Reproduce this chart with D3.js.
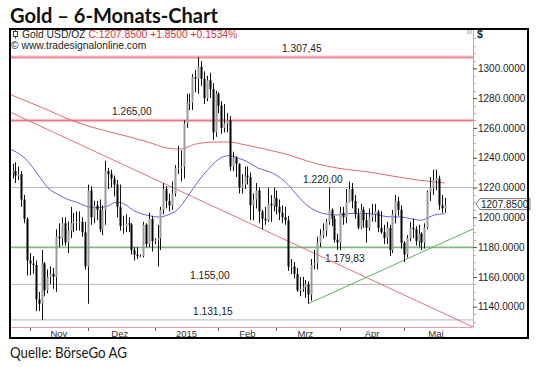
<!DOCTYPE html>
<html><head><meta charset="utf-8">
<script src="https://cdn.jsdelivr.net/npm/d3@7"></script>
<style>body{margin:0;background:#fff}svg{display:block}</style>
</head><body>
<svg id="c" width="540" height="367"></svg>
<script>
// ---- DATA ----
const startDate = "2014-10-24", endDate = "2015-05-21";
const opens = [1230,1231,1228,1229,1212,1199,1171,1169,1168,1145,
1142,1169,1151,1160,1162,1160,1187,1186,1196,1183,
1191,1196,1197,1197,1197,1190,1167,1218,1200,1208,
1205,1192,1205,1231,1229,1226,1222,1207,1194,1194,
1196,1195,1178,1175,1174,1174,1195,1182,1199,1184,
1185,1186,1205,1219,1211,1208,1216,1233,1233,1234,
1263,1277,1277,1294,1293,1301,1293,1280,1292,1286,
1257,1283,1275,1260,1263,1265,1234,1240,1236,1220,
1222,1228,1227,1208,1212,1218,1204,1199,1198,1209,
1208,1213,1207,1203,1200,1198,1167,1167,1162,1151,
1152,1153,1155,1148,1168,1169,1183,1188,1191,1197,
1205,1199,1185,1183,1203,1200,1210,1219,1211,1202,
1193,1205,1198,1193,1200,1202,1204,1193,1190,1186,
1193,1178,1202,1211,1205,1183,1175,1186,1193,1192,
1184,1189,1183,1193,1217,1220,1225,1226,1208,1206];
const highs = [1236,1237,1234,1231,1215,1200,1176,1174,1171,1150,
1178,1170,1165,1167,1166,1192,1196,1200,1200,1197,
1207,1203,1204,1204,1200,1197,1222,1221,1211,1211,
1212,1208,1238,1233,1232,1228,1225,1222,1201,1202,
1200,1196,1180,1180,1175,1197,1196,1203,1201,1186,
1195,1207,1223,1221,1216,1224,1235,1248,1245,1265,
1283,1283,1296,1299,1307.45,1305,1298,1295,1297,1290,
1285,1284,1278,1276,1270,1268,1244,1241,1236,1229,
1234,1234,1230,1216,1223,1220,1205,1207,1220,1215,
1220,1218,1212,1208,1207,1201,1172,1170,1166,1160,
1160,1158,1157,1172,1178,1187,1192,1196,1199,1220,
1206,1201,1189,1207,1207,1219,1224,1223,1215,1206,
1209,1207,1203,1206,1209,1209,1205,1204,1195,1197,
1195,1205,1215,1214,1208,1184,1188,1197,1199,1194,
1195,1190,1196,1218,1227,1232,1232,1228,1215,1213];
const lows = [1226,1223,1225,1207,1196,1161,1161,1162,1137,1137,
1131.15,1147,1149,1155,1152,1150,1180,1181,1181,1176,
1186,1190,1191,1191,1187,1165,1142,1195,1196,1198,
1190,1188,1195,1219,1220,1214,1200,1191,1189,1190,
1190,1175,1171,1172,1173,1173,1180,1180,1177,1182,
1167,1178,1202,1206,1204,1205,1214,1229,1224,1226,
1260,1272,1272,1284,1283,1288,1276,1278,1280,1252,
1254,1270,1256,1257,1257,1231,1231,1227,1216,1216,
1219,1222,1198,1198,1206,1196,1192,1195,1197,1197,
1204,1202,1198,1196,1195,1164,1162,1159,1150,1147,
1150,1146,1142,1144,1165,1165,1180,1186,1187,1195,
1194,1183,1178,1178,1195,1196,1210,1206,1199,1192,
1192,1193,1183,1191,1197,1197,1190,1189,1182,1182,
1174,1176,1196,1201,1179,1170,1173,1184,1186,1181,
1180,1178,1179,1192,1211,1215,1218,1205,1203,1203];
const closes = [1231,1228,1229,1212,1199,1171,1169,1168,1145,1142,
1169,1151,1160,1162,1160,1187,1186,1196,1183,1191,
1196,1197,1197,1197,1190,1167,1218,1200,1208,1205,
1192,1205,1231,1229,1226,1222,1207,1194,1194,1196,
1195,1178,1175,1174,1174,1195,1182,1199,1184,1185,
1186,1205,1219,1211,1208,1216,1233,1233,1234,1263,
1277,1277,1294,1293,1301,1293,1280,1292,1286,1257,
1283,1275,1260,1263,1265,1234,1240,1236,1220,1222,
1228,1227,1208,1212,1218,1204,1199,1198,1209,1208,
1213,1207,1203,1200,1198,1167,1167,1162,1151,1152,
1153,1155,1148,1168,1169,1183,1188,1191,1197,1205,
1199,1185,1183,1203,1200,1210,1219,1211,1202,1193,
1205,1198,1193,1200,1202,1204,1193,1190,1186,1193,
1178,1202,1211,1205,1183,1175,1186,1193,1192,1184,
1189,1183,1193,1217,1220,1225,1226,1208,1206,1207.85];
// moving averages: [bar index, value]
const ma200 = [[-0.9,1282.5],[5.3,1277.6],[12.2,1272],[19.1,1266],[26,1261.3],[33,1257.6],[39.8,1254.2],[46.7,1250.5],[53.6,1246.4],[58.2,1245.8],[62.8,1249],[69.7,1250.5],[74.3,1250.5],[81.2,1248.2],[88.1,1245.3],[95,1242],[101.9,1237.6],[108.8,1234.2],[115.7,1232],[122.6,1230.5],[129.5,1228.2],[136.4,1226],[143.3,1224.2],[149,1223.1]];
const ma50 = [[-0.9,1245.8],[1.9,1243.1],[5.3,1237.6],[8.8,1228.7],[12.2,1219.8],[15.7,1215.3],[19.1,1212],[22.6,1209.8],[26,1207.1],[29.5,1206.5],[32.9,1207.6],[35.8,1210.2],[38.7,1208.7],[42.1,1204.2],[46.7,1201.3],[50.2,1200.2],[53.6,1201.6],[57,1205.3],[60.5,1214.2],[64,1224.2],[67.4,1232],[70.9,1238.7],[74.3,1241.3],[77.7,1239.8],[81.2,1237.1],[84.6,1233.1],[88.1,1230.9],[91.5,1227.6],[95,1222],[98.4,1214.2],[101.9,1207.6],[105.3,1203.8],[108.8,1202],[112.2,1201.6],[115.7,1202.4],[120.3,1202.7],[124.9,1202],[129.5,1200.4],[134.1,1200.2],[137.5,1199.1],[141,1198],[143.3,1199.8],[145.6,1201.6],[149,1202.4]];
const downTrend = [[-0.9,1270.7],[158.8,1126.4]];
const upTrend = [[102,1142],[158.8,1192.2]];
const levels = [
  {v:1307.45, label:"1.307,45", kind:"red", lx:282, side:"above"},
  {v:1265.00, label:"1.265,00", kind:"red", lx:112, side:"above"},
  {v:1220.00, label:"1.220,00", kind:"gray", lx:303, side:"above"},
  {v:1179.83, label:"1.179,83", kind:"green", lx:325, side:"below"},
  {v:1155.00, label:"1.155,00", kind:"gray", lx:190, side:"above"},
  {v:1131.15, label:"1.131,15", kind:"gray", lx:193, side:"above"}];
const yTicks = [1140,1160,1180,1200,1220,1240,1260,1280,1300];
const monthNames = ["Nov","Dez","2015","Feb","Mrz","Apr","Mai"];
const monthStarts = ["2014-11-01","2014-12-01","2015-01-01","2015-02-01","2015-03-01","2015-04-01","2015-05-01"];
const lastPrice = 1207.85;

// ---- trading-day calendar (weekdays) ----
const parse = d3.utcParse("%Y-%m-%d");
const days = d3.utcDay.range(parse(startDate), d3.utcDay.offset(parse(endDate),1)).filter(d=>d.getUTCDay()%6!==0);
const idxOf = d => days.findIndex(x => x >= d);

const svg = d3.select("#c");
const P = {l:10, r:473, t:29, b:327};
const x = d3.scaleLinear().domain([0,149]).range([12.5,444.6]);
const y = d3.scaleLinear().domain([1140,1300]).range([306.7,68.3]);
const F = "'Liberation Sans', Arial, sans-serif";

svg.append("defs").append("clipPath").attr("id","clip").append("rect")
  .attr("x",P.l).attr("y",P.t).attr("width",P.r-P.l).attr("height",P.b-P.t);
const plot = svg.append("g").attr("clip-path","url(#clip)");

// level lines
levels.forEach(L=>{
  const yy = y(L.v);
  if(L.kind==="red"){
    plot.append("line").attr("x1",P.l).attr("x2",P.r).attr("y1",yy).attr("y2",yy).attr("stroke","#f6c4c8").attr("stroke-width",3.5);
    plot.append("line").attr("x1",P.l).attr("x2",P.r).attr("y1",yy).attr("y2",yy).attr("stroke","#e27784").attr("stroke-width",1);
  } else if(L.kind==="green"){
    plot.append("line").attr("x1",P.l).attr("x2",P.r).attr("y1",yy).attr("y2",yy).attr("stroke","#7dbb7d").attr("stroke-width",1.6);
  } else {
    plot.append("line").attr("x1",P.l).attr("x2",P.r).attr("y1",yy).attr("y2",yy).attr("stroke","#b8b8b8").attr("stroke-width",1);
  }
  plot.append("text").attr("x",L.lx).attr("y", L.side==="above"? yy-5 : yy+15)
    .attr("font-family",F).attr("font-size",10.2).attr("fill","#222").text(L.label);
});

// trend lines
const lineGen = d3.line().x(d=>x(d[0])).y(d=>y(d[1]));
plot.append("path").attr("d",lineGen(downTrend)).attr("fill","none").attr("stroke","#e8707c").attr("stroke-width",1);
plot.append("path").attr("d",lineGen(upTrend)).attr("fill","none").attr("stroke","#5fae5f").attr("stroke-width",1);

// moving averages
const curve = d3.line().x(d=>x(d[0])).y(d=>y(d[1])).curve(d3.curveMonotoneX);
plot.append("path").attr("d",curve(ma200)).attr("fill","none").attr("stroke","#e9646f").attr("stroke-width",1);
plot.append("path").attr("d",curve(ma50)).attr("fill","none").attr("stroke","#6464e0").attr("stroke-width",1);

// candles
const bars = closes.map((c,i)=>({i,o:opens[i],h:highs[i],l:lows[i],c}));
const g = plot.append("g");
g.selectAll("line.w").data(bars).join("line").attr("class","w")
  .attr("x1",d=>Math.round(x(d.i))+0.5).attr("x2",d=>Math.round(x(d.i))+0.5)
  .attr("y1",d=>y(d.h)).attr("y2",d=>y(d.l)).attr("stroke","#111").attr("stroke-width",1);
g.selectAll("rect.b").data(bars).join("rect").attr("class","b")
  .attr("x",d=>Math.round(x(d.i))-0.5).attr("width",2)
  .attr("y",d=>y(Math.max(d.o,d.c))).attr("height",d=>Math.max(1,Math.abs(y(d.o)-y(d.c))))
  .attr("fill",d=>d.c>=d.o?"#9a9a9a":"#000");

// plot frame lines (pink)
svg.append("line").attr("x1",P.r+0.5).attr("x2",P.r+0.5).attr("y1",P.t).attr("y2",P.b).attr("stroke","#e79aa3").attr("stroke-width",1);
svg.append("line").attr("x1",P.l).attr("x2",P.r).attr("y1",P.b+0.5).attr("y2",P.b+0.5).attr("stroke","#e79aa3").attr("stroke-width",1);

// right axis
const minor = d3.range(1130,1321,5);
svg.selectAll("line.mt").data(minor).join("line").attr("class","mt")
  .attr("x1",P.r).attr("x2",P.r+3).attr("y1",d=>Math.round(y(d))+0.5).attr("y2",d=>Math.round(y(d))+0.5)
  .attr("stroke","#e79aa3");
const ax = d3.axisRight(y).tickValues(yTicks).tickSize(4).tickPadding(1).tickFormat(d3.format(".4f"));
const axg = svg.append("g").attr("transform",`translate(${P.r},0)`).call(ax);
axg.select(".domain").remove();
axg.selectAll(".tick line").attr("stroke","#555");
axg.selectAll(".tick text").attr("font-family",F).attr("font-size",10).attr("fill","#222");

// current price tag
const yp = y(lastPrice)-1.5;
svg.append("path").attr("d",`M476,${yp} L480,${yp-5.5} L530,${yp-5.5} L530,${yp+5.5} L480,${yp+5.5} Z`)
  .attr("fill","#fff").attr("stroke","#555").attr("stroke-width",0.8);
svg.append("text").attr("x",481).attr("y",yp+3.6).attr("font-family",F).attr("font-size",10).attr("fill","#222").text(lastPrice.toFixed(4));

// x axis
const mIdx = monthStarts.map(s=>idxOf(parse(s)));
svg.selectAll("line.xt").data(mIdx).join("line").attr("class","xt")
  .attr("x1",d=>Math.round(x(d))+0.5).attr("x2",d=>Math.round(x(d))+0.5).attr("y1",P.b+1).attr("y2",P.b+4).attr("stroke","#666");
const mid = monthStarts.map(s=>{const d=parse(s); return idxOf(new Date(Date.UTC(d.getUTCFullYear(),d.getUTCMonth(),16)));});
svg.selectAll("text.xl").data(monthNames).join("text").attr("class","xl")
  .attr("x",(d,i)=>x(mid[i])).attr("y",P.b+10).attr("text-anchor","middle")
  .attr("font-family",F).attr("font-size",9.5).attr("fill","#333").text(d=>d);

// header
svg.append("text").attr("x",10).attr("y",23).attr("font-family","Lato, sans-serif").attr("font-weight",700)
  .attr("font-size",20).attr("fill","#111").attr("textLength",208).attr("lengthAdjust","spacingAndGlyphs").text("Gold – 6-Monats-Chart");
// candle icon
svg.append("line").attr("x1",15.5).attr("x2",15.5).attr("y1",29.5).attr("y2",38.5).attr("stroke","#444");
svg.append("rect").attr("x",13.5).attr("y",31.5).attr("width",4).attr("height",5).attr("fill","#fff").attr("stroke","#444");
const ht = svg.append("text").attr("x",22).attr("y",37.5).attr("font-family",F).attr("font-size",10.3).attr("fill","#222");
ht.append("tspan").text("Gold USD/OZ ");
ht.append("tspan").attr("fill","#e0303a").text("C:1207.8500 +1.8500 +0.1534%");
svg.append("text").attr("x",11).attr("y",49).attr("font-family",F).attr("font-size",10.3).attr("fill","#222").text("© www.tradesignalonline.com");
svg.append("text").attr("x",477).attr("y",38).attr("font-family",F).attr("font-size",10.5).attr("font-weight",700).attr("fill","#222").text("$");
svg.append("rect").attr("x",467.5).attr("y",29.5).attr("width",4).attr("height",4).attr("fill","#ddd").attr("stroke","#aaa").attr("stroke-width",0.6);

// outer box
svg.append("rect").attr("x",10).attr("y",29).attr("width",518).attr("height",309).attr("fill","none").attr("stroke","#000").attr("stroke-width",2);

// source
svg.append("text").attr("x",10).attr("y",358).attr("font-family","Lato, sans-serif").attr("font-weight",400)
  .attr("font-size",16).attr("fill","#1a1a1a").attr("textLength",117).attr("lengthAdjust","spacingAndGlyphs").text("Quelle: BörseGo AG");
</script>
</body></html>
